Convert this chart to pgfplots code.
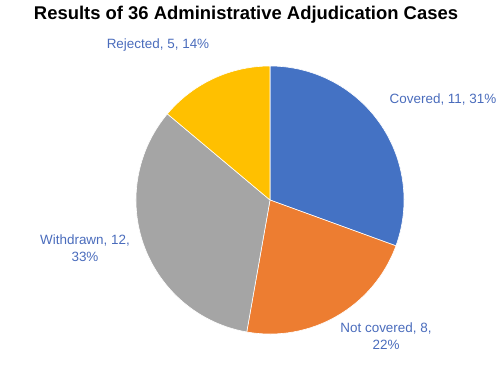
\documentclass[border=0pt]{standalone}
\usepackage{pgfplots}
\pgfplotsset{compat=1.18}
\usepackage{fontspec}
\setmainfont{Liberation Sans}
\definecolor{cBlue}{HTML}{4472C4}
\definecolor{cOrange}{HTML}{ED7D31}
\definecolor{cGray}{HTML}{A5A5A5}
\definecolor{cYellow}{HTML}{FFC000}
\definecolor{cLabel}{HTML}{4A6CBC}
\begin{document}
\begin{tikzpicture}
\begin{axis}[
  width=500bp, height=367bp, scale only axis,
  xmin=0, xmax=500, ymin=0, ymax=367,
  hide axis, clip=false,
]
% pie: values (cases) -- Covered 11, Not covered 8, Withdrawn 12, Rejected 5 (total 36)
\def\cx{270}\def\cy{167}\def\rr{134bp}
\gdef\startang{90}
\foreach \val/\col in {11/cBlue, 8/cOrange, 12/cGray, 5/cYellow}{
  \pgfmathsetmacro{\angA}{\startang}
  \pgfmathsetmacro{\angB}{\startang-\val/36*360}
  \edef\temp{\noexpand\fill[\col, draw=white, line width=0.6pt, line join=round]
    (axis cs:\cx,\cy) -- ++(\angA:\rr) arc[start angle=\angA, end angle=\angB, radius=\rr] -- cycle;}
  \temp
  \global\let\startang\angB
}
\path (axis cs:0,0) (axis cs:500,367);
\node[font=\bfseries\fontsize{18.5}{21}\selectfont] at (axis cs:246,352) {Results of 36 Administrative Adjudication Cases};
\begin{scope}[every node/.style={font=\fontsize{13.5}{16.5}\selectfont, text=cLabel, align=center}]
\node at (axis cs:158,322) {Rejected, 5, 14\%};
\node at (axis cs:443,268) {Covered, 11, 31\%};
\node at (axis cs:85,119) {Withdrawn, 12,\\33\%};
\node at (axis cs:386,31) {Not covered, 8,\\22\%};
\end{scope}
\end{axis}
\end{tikzpicture}
\end{document}
